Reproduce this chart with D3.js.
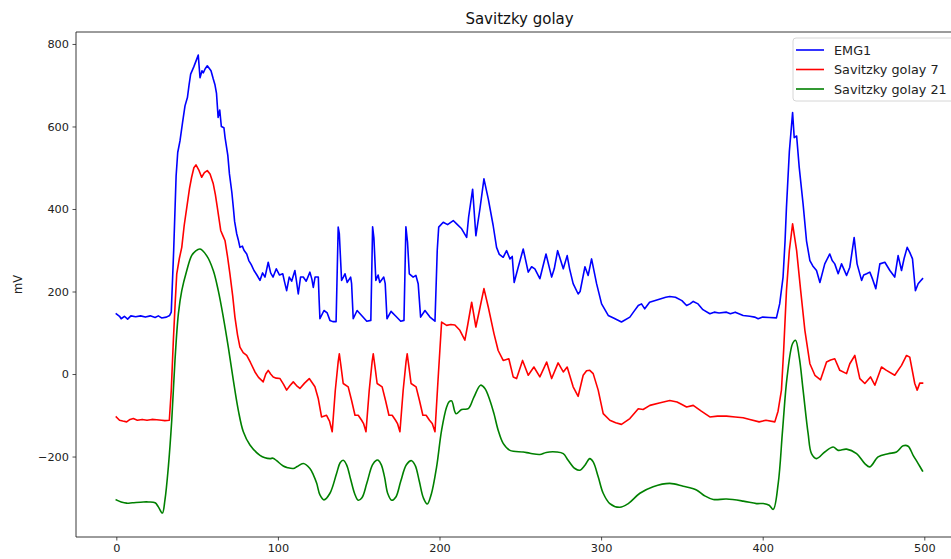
<!DOCTYPE html>
<html><head><meta charset="utf-8">
<script src="https://cdn.jsdelivr.net/npm/d3@7"></script>
<style>
html,body{margin:0;padding:0;background:#fff;overflow:hidden;}
text{font-family:"DejaVu Sans",sans-serif;}
</style></head>
<body><svg id="chart" width="951" height="559"></svg>
<script>
const title = "Savitzky golay";
const yLabel = "mV";
const seriesNames = ["EMG1", "Savitzky golay 7", "Savitzky golay 21"];
const seriesColors = ["#0000ff", "#ff0000", "#008000"];
const xTicks = [0, 100, 200, 300, 400, 500];
const yTicks = [-200, 0, 200, 400, 600, 800];

const emg1 = [[0,146],[2,140],[3,134],[5,140],[7,133],[9,141],[12,139],[15,141],[18,138],[21,141],[24,137],[26,141],[28,136],[31,138],[33,142],[34,150],[35.5,300],[37,480],[38,537],[39.4,565],[41,610],[42.5,650],[44,670],[45,700],[46,727],[48,745],[50.7,773],[51.8,718],[53,735],[53.8,730],[55,740],[56.3,747],[58.6,735],[60,715],[61,702],[62,680],[63,622],[64,640],[65,600],[66.6,597],[67.3,573],[69,530],[70,485],[71.5,440],[72.4,404],[73.2,370],[74.5,340],[75.5,325],[76.5,307],[78,310],[79,300],[80.7,291],[82,275],[83.5,265],[85.2,251],[87,240],[88.9,227],[90.5,245],[92,235],[94,271],[95.5,245],[97,235],[99,255],[101,240],[103,243],[104,225],[105.4,202],[107,235],[108.5,225],[110.5,251],[111.5,225],[112.6,194],[114,235],[115.7,235],[117.5,225],[119.8,247],[121,230],[121.9,210],[123,235],[125,235],[125.5,180],[126,134],[128.5,154],[130.5,148],[132.2,130],[134,127],[136,127],[137.3,356],[138,340],[139.4,227],[140.5,235],[141.5,243],[142.9,222],[145,235],[145.6,219],[146.6,134],[149,154],[151.8,142],[155,128],[157.5,130],[158.6,357],[159.4,330],[160.6,227],[162,240],[163,222],[165.5,235],[166.4,219],[167.5,134],[170,152],[173,140],[176,128],[178,130],[179.2,357],[180.2,320],[181.3,243],[183.7,235],[185.4,239],[186.8,219],[188.3,138],[191,154],[194.1,138],[197.2,128],[198.6,300],[199.5,356],[202.3,368],[205,362],[208.5,372],[210.6,364],[213.7,352],[216.8,331],[218,380],[220.5,448],[222.5,335],[225,400],[227.5,473],[230.2,424],[233.2,360],[235.3,307],[237,290],[239.4,283],[241.5,299],[243.6,279],[245,285],[246.2,222],[248.7,259],[251.8,303],[254.9,247],[257,260],[259,255],[262.1,231],[265.9,291],[269.4,235],[271,255],[273.1,299],[276.6,255],[279,287],[280.5,255],[282.7,219],[285.8,194],[287,200],[290,260],[292,239],[294.1,279],[297.2,219],[300.3,170],[304.4,142],[308,135],[312.6,126],[317.8,138],[320,150],[323,166],[325,170],[327,158],[330,174],[335,180],[340,186],[342.5,188],[346,186],[350,178],[352.9,166],[355,170],[357,176],[360,170],[363,156],[367.3,146],[370,150],[373,148],[377.6,150],[380,146],[383,150],[387.9,142],[392,140],[395,138],[397.2,134],[400,138],[404,137],[408.5,136],[410.5,170],[412.6,235],[413.8,320],[414.7,404],[416.5,540],[418.5,634],[419.5,573],[421,577],[422.6,501],[425,412],[427.1,323],[429.2,275],[431,262],[433.3,251],[435.4,222],[438.4,267],[441.5,291],[443,275],[444.6,267],[446.7,243],[448.8,267],[451.9,239],[453.9,259],[456.6,331],[458.4,267],[461.2,227],[462.5,240],[464.3,243],[466.3,247],[468,230],[470,207],[472.5,267],[475.6,271],[478.7,251],[481.7,235],[483.8,287],[485.9,251],[487.5,280],[489.4,307],[491,295],[492.7,279],[494.5,202],[496.2,219],[497.5,225],[498.9,231]];

const savgol7 = [[0,-104],[2,-112],[4,-114],[6.4,-116],[8.5,-110],[10.5,-108],[13,-112],[16,-110],[19,-112],[22,-110],[25,-111],[28,-112],[30,-113],[32.8,-112],[34,-40],[35.3,82],[36.4,170],[37.4,243],[39,280],[40.5,307],[42,360],[43.9,412],[45.3,450],[46.6,477],[48,500],[49.3,507],[51,495],[52.8,477],[54.5,488],[56.3,493],[58,485],[60,461],[61.3,435],[62.5,404],[63.6,375],[64.6,348],[66,335],[67.3,323],[68.8,285],[70.3,243],[72,190],[73.4,138],[75,95],[76.5,65],[78.5,52],[80.7,45],[83,28],[85.8,5],[88,-8],[90.9,-19],[92.5,0],[94,9],[95.5,0],[97.1,-7],[99,-10],[101.3,-11],[103.5,-25],[105.4,-39],[107.5,-28],[109.5,-19],[111.5,-28],[113.6,-35],[116.5,-22],[119.4,-11],[121,-20],[122.9,-31],[125,-60],[127,-104],[130.1,-100],[132,-115],[133.6,-140],[135.5,-40],[137.3,30],[138,49],[139,20],[140.4,-23],[143.5,-31],[145.6,-64],[147.7,-100],[149.7,-100],[151.8,-112],[153,-120],[154.5,-140],[156.5,-40],[158.3,30],[159,49],[160,20],[161.4,-23],[164.5,-31],[166.6,-64],[168.7,-100],[170.7,-100],[172.8,-112],[174,-120],[175.5,-140],[177.5,-40],[179.3,30],[180,49],[181,20],[182.4,-23],[185.5,-31],[187.6,-64],[189.7,-100],[191.7,-100],[193.8,-112],[195.5,-120],[197.2,-140],[199,-20],[201.3,126],[204.4,118],[207,120],[209.5,119],[212.6,106],[215.7,82],[217.5,120],[219.9,174],[222.5,114],[225,160],[227.5,207],[230.2,162],[233.7,98],[236.3,57],[239.4,33],[242.9,37],[245.6,-7],[247.7,-11],[251.4,33],[254.9,-3],[258.4,17],[262.1,-7],[266.3,29],[269.4,-11],[273.4,27],[276.6,5],[279,17],[282.7,-31],[285.8,-54],[288.9,-3],[291,8],[293,9],[295.1,1],[298.2,-39],[301.3,-96],[305.4,-112],[309,-118],[312.6,-122],[317.8,-108],[323,-84],[326,-86],[330.2,-76],[336,-70],[342.5,-64],[347,-68],[350,-74],[352.9,-80],[357,-76],[362,-90],[367.3,-104],[372,-102],[377.6,-102],[383,-104],[387.9,-106],[392,-110],[397.8,-116],[402,-112],[407.5,-116],[409.5,-90],[411.6,-39],[413,60],[414.7,202],[416.5,300],[418.5,364],[421,299],[423.5,202],[426.1,106],[429.2,25],[432.3,-3],[435.8,-14],[439.5,29],[442,34],[444.6,37],[447.7,9],[451.9,1],[453.9,25],[457,45],[460.1,-11],[463.2,-23],[466.7,-7],[469.4,-27],[473.5,17],[476.6,9],[481.7,-3],[485.9,21],[489,45],[491,41],[494.1,-23],[495.6,-39],[497.2,-22],[498.9,-22]];

const savgol21 = [[0,-305],[3,-310],[6.4,-313],[10,-312],[16.7,-310],[20,-310],[24,-312],[26,-322],[28.5,-337],[30.1,-305],[32.2,-225],[34.3,-112],[36.3,33],[38.4,146],[40.5,202],[43.6,251],[46.6,287],[49,298],[51.8,303],[55.9,287],[60,251],[63.1,202],[66.2,138],[69.3,65],[72.4,-15],[75.5,-88],[78.6,-140],[82.7,-172],[88.9,-197],[92,-203],[95.1,-205],[97,-204],[99.2,-210],[103.3,-223],[106,-227],[109.5,-229],[112,-224],[115.7,-217],[119.8,-229],[122,-245],[124,-265],[126,-293],[128.5,-305],[132.2,-289],[136.3,-241],[138.5,-215],[140.4,-209],[142.5,-220],[145,-255],[147.5,-290],[149.7,-306],[152,-300],[155,-265],[158.5,-220],[161,-209],[162.1,-209],[164,-220],[166,-250],[168,-290],[170.4,-306],[173,-298],[176,-260],[179.5,-220],[182.7,-210],[185,-222],[187.5,-260],[190,-300],[192.4,-315],[195,-290],[198.2,-225],[201.3,-136],[204.4,-80],[206,-67],[207.5,-65],[210.2,-96],[213.7,-86],[217.8,-84],[221.3,-56],[225.4,-27],[228.1,-35],[231.2,-64],[233.7,-96],[236.3,-136],[239.4,-168],[243.6,-185],[251.8,-189],[256,-192],[262.1,-195],[266,-190],[272.4,-189],[276.6,-193],[279.6,-209],[283.8,-229],[286.9,-233],[290,-221],[293,-205],[295.1,-213],[298.2,-249],[301.3,-289],[305.4,-314],[311.6,-323],[316.8,-314],[324,-289],[332.2,-273],[342.5,-265],[350.8,-272],[359,-281],[364,-295],[369.4,-304],[377.6,-303],[387.9,-308],[396.2,-314],[400.3,-314],[404,-318],[406.5,-328],[409.6,-265],[412.3,-136],[415.1,-7],[418.5,74],[420.3,82],[422.6,41],[425,-39],[428.1,-144],[430.2,-193],[433.3,-205],[438.4,-189],[443.6,-177],[446.7,-185],[451.9,-182],[458.1,-193],[463.2,-217],[466.3,-225],[471.4,-201],[477.6,-193],[482.8,-189],[486.9,-174],[490,-175],[493.1,-197],[496.2,-217],[498.9,-235]];

const series = [emg1, savgol7, savgol21];

const svg = d3.select("#chart");
const plot = {left: 76, right: 963, top: 32, bottom: 537};
const x = d3.scaleLinear().domain([-24.95, 523.95]).range([plot.left, plot.right]);
const y = d3.scaleLinear().domain([-395, 829]).range([plot.bottom, plot.top]);

const curves = [d3.curveLinear, d3.curveLinear, d3.curveCatmullRom];
series.forEach((s, i) => {
  const line = d3.line().x(d => x(d[0])).y(d => y(d[1])).curve(curves[i]);
  svg.append("path").datum(s).attr("d", line)
    .attr("fill", "none").attr("stroke", seriesColors[i])
    .attr("stroke-width", 1.6).attr("stroke-linejoin", "round").attr("stroke-linecap", "square");
});

const fmt = d => d < 0 ? "\u2212" + Math.abs(d) : String(d);
const xAxis = svg.append("g").attr("transform", `translate(0,${plot.bottom})`)
  .call(d3.axisBottom(x).tickValues(xTicks).tickFormat(fmt).tickSize(3.5).tickPadding(3.5));
const yAxis = svg.append("g").attr("transform", `translate(${plot.left},0)`)
  .call(d3.axisLeft(y).tickValues(yTicks).tickFormat(fmt).tickSize(3.5).tickPadding(3.5));
[xAxis, yAxis].forEach(a => {
  a.select(".domain").remove();
  a.selectAll("text").attr("font-family", "DejaVu Sans").attr("font-size", 11.3).attr("fill", "#222");
  a.selectAll("line").attr("stroke", "#222").attr("stroke-width", 0.8);
});
// spines
svg.append("line").attr("x1", plot.left).attr("x2", plot.left).attr("y1", plot.top).attr("y2", plot.bottom).attr("stroke", "#222").attr("stroke-width", 0.9);
svg.append("line").attr("x1", plot.left).attr("x2", plot.right).attr("y1", plot.bottom).attr("y2", plot.bottom).attr("stroke", "#222").attr("stroke-width", 0.9);
svg.append("line").attr("x1", plot.left).attr("x2", plot.right).attr("y1", plot.top).attr("y2", plot.top).attr("stroke", "#222").attr("stroke-width", 0.9);

svg.append("text").attr("x", (plot.left + plot.right) / 2).attr("y", 24)
  .attr("text-anchor", "middle").attr("font-size", 15).attr("fill", "#111").text(title);
svg.append("text").attr("transform", `translate(22,${(plot.top + plot.bottom) / 2}) rotate(-90)`)
  .attr("text-anchor", "middle").attr("font-size", 11.5).attr("fill", "#222").text(yLabel);

// legend
const lg = svg.append("g").attr("transform", "translate(793,38)");
lg.append("rect").attr("x", 0).attr("y", 0).attr("width", 166).attr("height", 63).attr("rx", 3)
  .attr("fill", "#fff").attr("fill-opacity", 0.8).attr("stroke", "#ccc").attr("stroke-width", 0.8);
seriesNames.forEach((n, i) => {
  const yy = 12 + i * 19.5;
  lg.append("line").attr("x1", 3).attr("x2", 31).attr("y1", yy).attr("y2", yy)
    .attr("stroke", seriesColors[i]).attr("stroke-width", 1.6);
  lg.append("text").attr("x", 41).attr("y", yy + 4.5).attr("font-size", 12.8).attr("fill", "#222").text(n);
});
</script></body></html>
